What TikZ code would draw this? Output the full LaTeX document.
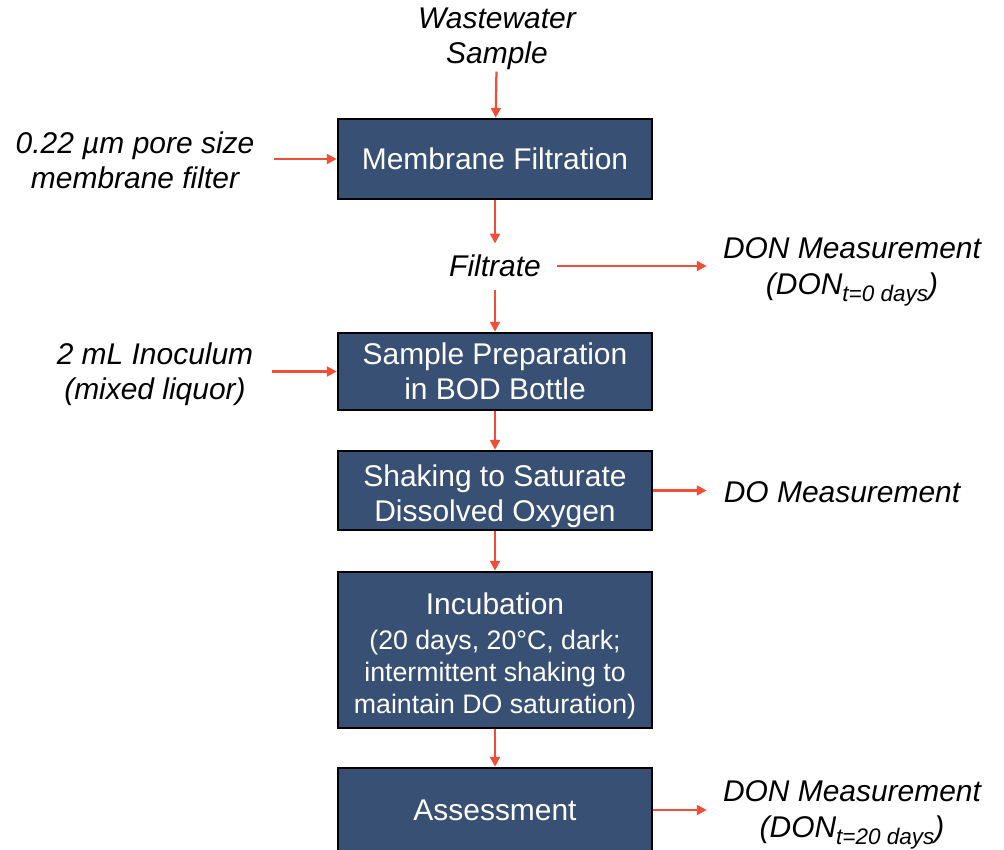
\documentclass[tikz,border=0pt]{standalone}
\usepackage{fontspec}
\setmainfont{Liberation Sans}
\usetikzlibrary{positioning,arrows.meta}
\definecolor{boxblue}{RGB}{57,80,117}
\definecolor{flowred}{RGB}{240,78,55}
\newcommand{\lowtext}[1]{\raisebox{-0.45ex}{\fontsize{16}{16}\selectfont #1}}
\newcommand{\smalltext}{\fontsize{19}{23}\selectfont}
\newcommand{\topstrut}{\rule{0pt}{24pt}}
\tikzset{
  stepbox/.style={draw=black, line width=1.8pt, fill=boxblue, text=white,
    minimum width=7.85cm, align=center, inner sep=0pt,
    font=\fontsize{21.3}{25}\selectfont},
  sidetext/.style={align=center, inner sep=1pt,
    font=\itshape\fontsize{21.3}{25}\selectfont},
  flow/.style={flowred, line width=1.6pt, -{Triangle[length=7pt, width=7pt]}}
}
\begin{document}
\begin{tikzpicture}[x=0.025cm, y=-0.025cm]
    \useasboundingbox (0,0) rectangle (1004,849);

    % Main steps
    \node[stepbox, minimum height=2cm] (filt) at (495,159) {Membrane Filtration};
    \node[stepbox, minimum height=1.925cm] (prep) at (495,371.5) {Sample Preparation\\in BOD Bottle};
    \node[stepbox, minimum height=1.975cm] (shake) at (495,490.5) {\topstrut Shaking to Saturate\\Dissolved Oxygen};
    \node[stepbox, minimum height=3.9cm, font=\smalltext] (incub) at (495,650)
      {{\fontsize{21.3}{25}\selectfont\topstrut Incubation}\\[1.5pt](20 days, 20°C, dark;\\intermittent shaking to\\maintain DO saturation)};
    \node[stepbox, minimum height=2.1cm] (assess) at (495,810) {Assessment};

    % Inputs and outputs
    \node[sidetext] (sample) at (497,39) {Wastewater\\Sample};
    \node[sidetext] (filter) at (135,160) {0.22 µm pore size\\membrane filter};
    \node[sidetext] (filtrate) at (495,266) {Filtrate};
    \node[sidetext] (don0) at (852,272) {DON Measurement\\(DON\lowtext{t=0 days})};
    \node[sidetext] (inoc) at (155,374) {2 mL Inoculum\\(mixed liquor)};
    \node[sidetext] (do) at (842,492) {DO Measurement};
    \node[sidetext] (don20) at (852,815) {DON Measurement\\(DON\lowtext{t=20 days})};

    % Flow
    \draw[flow] (sample) -- (filt);
    \draw[flow, shorten >=7pt] (filt) -- (filtrate);
    \draw[flow, shorten <=8pt] (filtrate) -- (prep);
    \draw[flow] (prep) -- (shake);
    \draw[flow] (shake) -- (incub);
    \draw[flow] (incub) -- (assess);

    \draw[flow, shorten <=12.5pt] (filter.east |- filt.west) -- (filt.west);
    \draw[flow, shorten <=12.5pt] (inoc.east |- prep.west) -- (prep.west);
    \draw[flow, shorten <=10.4pt, shorten >=10.4pt] (filtrate.east) -- (filtrate.east -| don0.west);
    \draw[flow, shorten >=11pt] (shake.east) -- (shake.east -| do.west);
    \draw[flow, shorten >=10.4pt] (assess.east) -- (assess.east -| don20.west);
\end{tikzpicture}
\end{document}
